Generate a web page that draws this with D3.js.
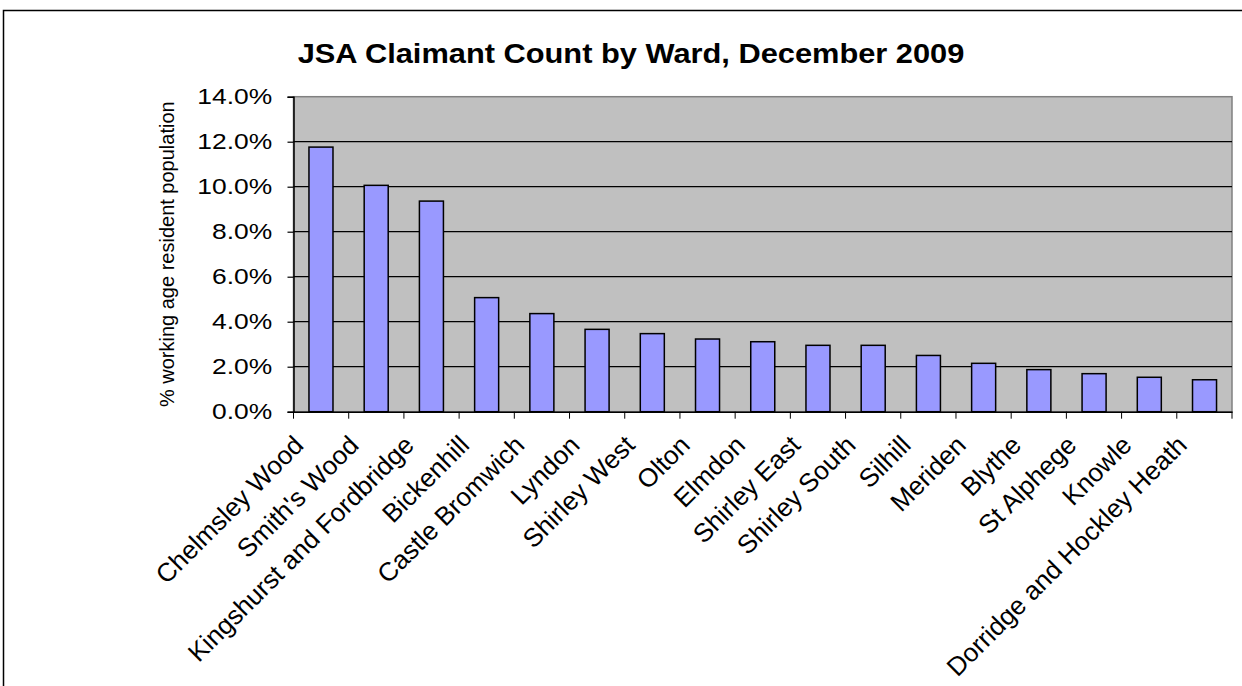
<!DOCTYPE html>
<html>
<head>
<meta charset="utf-8">
<script src="https://cdn.jsdelivr.net/npm/d3@7"></script>
<style>
  html, body { margin: 0; padding: 0; background: #ffffff; }
  svg { display: block; font-family: "Liberation Sans", Arial, sans-serif; }
</style>
</head>
<body>
<svg id="chart" width="1242" height="686"></svg>
<script>
const categories = ["Chelmsley Wood", "Smith's Wood", "Kingshurst and Fordbridge", "Bickenhill",
  "Castle Bromwich", "Lyndon", "Shirley West", "Olton", "Elmdon", "Shirley East", "Shirley South",
  "Silhill", "Meriden", "Blythe", "St Alphege", "Knowle", "Dorridge and Hockley Heath"];
const values = [0.1176, 0.1006, 0.0936, 0.0507, 0.0436, 0.0366, 0.0347, 0.0323, 0.0311,
  0.0295, 0.0295, 0.0250, 0.0215, 0.0187, 0.0169, 0.0153, 0.0142];
const yTicks = [0, 0.02, 0.04, 0.06, 0.08, 0.10, 0.12, 0.14];
const title = "JSA Claimant Count by Ward, December 2009";
const yTitle = "% working age resident population";

const svg = d3.select("#chart");
const plot = { left: 293.5, right: 1232, top: 96.7, bottom: 411.7 };

// outer frame
svg.append("rect").attr("x", 3.5).attr("y", 10.5).attr("width", 1260).attr("height", 700)
  .attr("fill", "none").attr("stroke", "#000").attr("stroke-width", 1.5);

const x = d3.scaleBand().domain(categories).range([plot.left, plot.right]).paddingInner(0.565).paddingOuter(0.28);
const xb = d3.scaleBand().domain(categories).range([plot.left, plot.right]);
const y = d3.scaleLinear().domain([0, 0.14]).range([plot.bottom, plot.top]);

// plot background
svg.append("rect").attr("x", plot.left).attr("y", plot.top)
  .attr("width", plot.right - plot.left).attr("height", plot.bottom - plot.top)
  .attr("fill", "#c0c0c0").attr("stroke", "#808080").attr("stroke-width", 1.5);

// gridlines
svg.append("g").selectAll("line").data(yTicks.filter(d => d > 0 && d < 0.14)).join("line")
  .attr("x1", plot.left).attr("x2", plot.right)
  .attr("y1", d => y(d)).attr("y2", d => y(d))
  .attr("stroke", "#000").attr("stroke-width", 1.2);

// bars
svg.append("g").selectAll("rect").data(values).join("rect")
  .attr("x", (d, i) => x(categories[i]))
  .attr("width", x.bandwidth())
  .attr("y", d => y(d))
  .attr("height", d => y(0) - y(d))
  .attr("fill", "#9999ff").attr("stroke", "#000").attr("stroke-width", 1.5);

// y axis
const yAxis = d3.axisLeft(y).tickValues(yTicks).tickFormat(d3.format(".1%")).tickSize(6).tickPadding(6);
const gy = svg.append("g").attr("transform", `translate(${plot.left},0)`).call(yAxis);
gy.select(".domain").attr("stroke", "#000").attr("stroke-width", 1.5);
gy.selectAll(".tick line").attr("stroke", "#000").attr("stroke-width", 1.2);
gy.selectAll(".tick text").attr("fill", "#000").attr("font-size", 22)
  .attr("font-family", "Liberation Sans, Arial, sans-serif")
  .attr("transform", "translate(-7,0) scale(1.2,1)");

// x axis
const xAxis = d3.axisBottom(xb).tickSize(0).tickFormat("");
const gx = svg.append("g").attr("transform", `translate(0,${plot.bottom})`).call(xAxis);
gx.select(".domain").attr("stroke", "#000").attr("stroke-width", 1.5);
const bounds = categories.map(c => xb(c)).concat([plot.right]);
svg.append("g").selectAll("line").data(bounds).join("line")
  .attr("x1", d => d).attr("x2", d => d)
  .attr("y1", plot.bottom).attr("y2", plot.bottom + 7)
  .attr("stroke", "#000").attr("stroke-width", 1);

// category labels
svg.append("g").selectAll("text").data(categories).join("text")
  .attr("transform", d => `translate(${xb(d) + xb.bandwidth() / 2 - 16},${plot.bottom + 35}) rotate(-45)`)
  .attr("text-anchor", "end")
  .attr("font-size", 26)
  .attr("fill", "#000")
  .text(d => d);

// title
svg.append("text")
  .attr("transform", "translate(631,63) scale(1.1,1)")
  .attr("text-anchor", "middle")
  .attr("font-size", 28).attr("font-weight", "bold").attr("fill", "#000")
  .text(title);

// y title
svg.append("text")
  .attr("transform", `translate(174,${(plot.top + plot.bottom) / 2}) rotate(-90)`)
  .attr("text-anchor", "middle")
  .attr("font-size", 20).attr("fill", "#000")
  .text(yTitle);
</script>
</body>
</html>
